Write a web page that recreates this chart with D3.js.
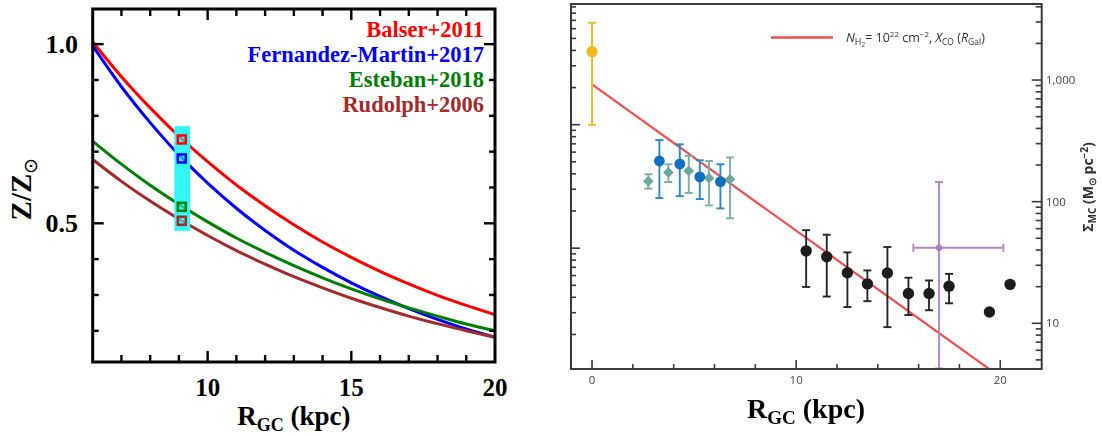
<!DOCTYPE html>
<html>
<head>
<meta charset="utf-8">
<script src="https://cdn.jsdelivr.net/npm/d3@7"></script>
<style>
  body { margin: 0; background: #fff; }
  svg { display: block; }
</style>
</head>
<body>
<svg id="fig" width="1102" height="436"></svg>
<script>
// ---------- Left panel: radial metallicity gradients ----------
const radiusGrid = [6, 7, 8, 9, 10, 11, 12, 13, 14, 15, 16, 17, 18, 19, 20];
const balser2011 = [1.006, 0.909, 0.822, 0.743, 0.672, 0.607, 0.549, 0.496, 0.448, 0.405, 0.366, 0.331, 0.299, 0.271, 0.245];
const fernandezMartin2017 = [0.995, 0.881, 0.781, 0.691, 0.612, 0.542, 0.480, 0.425, 0.377, 0.334, 0.296, 0.262, 0.232, 0.205, 0.182];
const esteban2018 = [0.729, 0.665, 0.606, 0.553, 0.504, 0.459, 0.419, 0.382, 0.348, 0.317, 0.289, 0.264, 0.241, 0.219, 0.200];
const rudolph2006 = [0.678, 0.617, 0.562, 0.512, 0.466, 0.424, 0.386, 0.351, 0.320, 0.291, 0.265, 0.241, 0.220, 0.200, 0.182];
const studyNames = ["Balser+2011", "Fernandez-Martin+2017", "Esteban+2018", "Rudolph+2006"];
const solarCircleR = 9.1;
const solarCircleZ = [0.734, 0.681, 0.546, 0.507];
const solarBandR = [8.84, 9.39];
const solarBandZ = [0.479, 0.771];
const leftXTickLabels = [10, 15, 20];
const leftYTickLabels = [0.5, 1.0];

// ---------- Right panel: molecular cloud surface density ----------
const centreR = [0];
const centreSigma = [1710];
const centreLo = [428];
const centreHi = [2957];

const innerCloudR = [3.30, 4.30, 5.28, 6.29];
const innerCloudSigma = [216, 204, 160, 146];
const innerCloudLo = [107, 111, 105, 88];
const innerCloudHi = [321, 296, 219, 203];

const innerAltR = [2.76, 3.74, 4.74, 5.73, 6.76];
const innerAltSigma = [147, 174, 179, 156, 153];
const innerAltLo = [128, 145, 118, 93, 73];
const innerAltHi = [168, 203, 238, 216, 231];

const outerCloudR = [10.49, 11.50, 12.51, 13.49, 14.47, 15.50, 16.51, 17.49, 19.47, 20.48];
const outerCloudSigma = [39.4, 35.2, 26.0, 21.1, 25.9, 17.6, 17.6, 20.2, 12.4, 20.9];
const outerCloudLo = [19.9, 16.6, 13.6, 15.2, 9.3, 11.7, 12.8, 14.6, null, null];
const outerCloudHi = [58.3, 53.5, 38.3, 27.2, 42.4, 23.7, 22.5, 25.5, null, null];

const farCloudR = [17.0];
const farCloudSigma = [41.8];
const farCloudLo = [4.25];
const farCloudHi = [145];
const farCloudRLo = [15.74];
const farCloudRHi = [20.15];

const modelR = [0, 22];
const modelSigma = [922, 2.08];

const rightXMajor = [0, 10, 20];
const rightXMinor = [2, 4, 6, 8, 12, 14, 16, 18];

// ---------------------------------------------------------------
const svg = d3.select("#fig");
svg.append("rect").attr("width", 1102).attr("height", 436).attr("fill", "#fff");
const defs = svg.append("defs");
defs.append("filter").attr("id", "soft")
  .attr("x", "-5%").attr("y", "-5%").attr("width", "110%").attr("height", "110%")
  .append("feGaussianBlur").attr("stdDeviation", 0.45);

const serif = "'Liberation Serif', 'Times New Roman', Times, serif";
const narrow = "'Liberation Sans Narrow', 'Open Sans', Roboto, sans-serif";

// ================= LEFT PANEL =================
const L = { x0: 92.7, x1: 495, y0: 9, y1: 362 };
const xL = d3.scaleLinear().domain([6, 20]).range([L.x0, L.x1]);
const yL = d3.scaleLinear().domain([0.113, 1.098]).range([L.y1, L.y0]);
const gL = svg.append("g");

const studyColors = ["#ff0000", "#0000ff", "#008000", "#a52a2a"];
const studySeries = [balser2011, fernandezMartin2017, esteban2018, rudolph2006];

const lineL = d3.line()
  .x(d => xL(d[0])).y(d => yL(d[1]))
  .curve(d3.curveMonotoneX);

studySeries.forEach((vals, i) => {
  gL.append("path")
    .datum(radiusGrid.map((r, j) => [r, vals[j]]))
    .attr("d", lineL)
    .attr("fill", "none")
    .attr("stroke", studyColors[i])
    .attr("stroke-width", 3);
});

// solar-circle band
gL.append("rect")
  .attr("x", xL(solarBandR[0]))
  .attr("width", xL(solarBandR[1]) - xL(solarBandR[0]))
  .attr("y", yL(solarBandZ[1]))
  .attr("height", yL(solarBandZ[0]) - yL(solarBandZ[1]))
  .attr("fill", "#33f6f6");

// curves seen through the square markers
const sq = 8;
const sqClip = defs.append("clipPath").attr("id", "sqclip");
solarCircleZ.forEach(z => {
  sqClip.append("rect")
    .attr("x", xL(solarCircleR) - sq / 2).attr("y", yL(z) - sq / 2)
    .attr("width", sq).attr("height", sq);
});
studySeries.forEach((vals, i) => {
  gL.append("path")
    .datum(radiusGrid.map((r, j) => [r, vals[j]]))
    .attr("d", lineL)
    .attr("fill", "none")
    .attr("stroke", studyColors[i])
    .attr("stroke-width", 2)
    .attr("opacity", 0.45)
    .attr("clip-path", "url(#sqclip)");
});
solarCircleZ.forEach((z, i) => {
  gL.append("rect")
    .attr("x", xL(solarCircleR) - sq / 2).attr("y", yL(z) - sq / 2)
    .attr("width", sq).attr("height", sq)
    .attr("fill", "none")
    .attr("stroke", studyColors[i])
    .attr("stroke-width", 2.5);
});

// ticks (inward on all four sides)
const ltick = gL.append("g").attr("stroke", "#000").attr("stroke-width", 2.4);
for (let r = 7; r < 20; r++) {
  const major = r % 5 === 0;
  const len = major ? 11 : 7;
  ltick.append("line").attr("x1", xL(r)).attr("x2", xL(r)).attr("y1", L.y1).attr("y2", L.y1 - len);
  ltick.append("line").attr("x1", xL(r)).attr("x2", xL(r)).attr("y1", L.y0).attr("y2", L.y0 + len);
}
for (let k = 2; k <= 10; k++) {
  const v = k / 10;
  const major = k === 5 || k === 10;
  const len = major ? 11 : 6;
  ltick.append("line").attr("y1", yL(v)).attr("y2", yL(v)).attr("x1", L.x0).attr("x2", L.x0 + len);
  ltick.append("line").attr("y1", yL(v)).attr("y2", yL(v)).attr("x1", L.x1).attr("x2", L.x1 - len);
}

// frame
gL.append("rect")
  .attr("x", L.x0).attr("y", L.y0)
  .attr("width", L.x1 - L.x0).attr("height", L.y1 - L.y0)
  .attr("fill", "none").attr("stroke", "#000").attr("stroke-width", 3);

// tick labels
gL.selectAll("text.xl").data(leftXTickLabels).join("text")
  .attr("x", d => xL(d)).attr("y", 396)
  .attr("text-anchor", "middle")
  .attr("font-family", serif).attr("font-weight", "bold").attr("font-size", 25)
  .text(d => d);
gL.selectAll("text.yl").data(leftYTickLabels).join("text")
  .attr("x", 78).attr("y", d => yL(d) + 9)
  .attr("text-anchor", "end")
  .attr("font-family", serif).attr("font-weight", "bold").attr("font-size", 26)
  .text(d => d3.format(".1f")(d));

// axis titles
const tL = gL.append("text")
  .attr("x", (L.x0 + L.x1) / 2).attr("y", 425)
  .attr("text-anchor", "middle")
  .attr("font-family", serif).attr("font-weight", "bold").attr("font-size", 27);
tL.append("tspan").text("R");
tL.append("tspan").attr("font-size", 18).attr("dy", 6).text("GC");
tL.append("tspan").attr("dy", -6).text(" (kpc)");

const zt = gL.append("text")
  .attr("transform", "translate(31,189) rotate(-90)")
  .attr("text-anchor", "middle")
  .attr("font-family", serif).attr("font-weight", "bold").attr("font-size", 29);
zt.append("tspan").text("Z/Z");
zt.append("tspan").attr("font-size", 19).attr("font-weight", "normal").attr("dy", 6).text("\u2299");

// legend
studyNames.forEach((name, i) => {
  gL.append("text")
    .attr("x", 484).attr("y", 37 + i * 25)
    .attr("text-anchor", "end")
    .attr("font-family", serif).attr("font-weight", "bold").attr("font-size", 22.5)
    .attr("fill", studyColors[i])
    .text(name);
});

// ================= RIGHT PANEL =================
const R = { x0: 571, x1: 1041.7, y0: 4, y1: 369 };
const xR = d3.scaleLinear().domain([-1.03, 22.03]).range([R.x0, R.x1]);
const yR = d3.scaleLog().domain([4.21, 4217]).range([R.y1, R.y0]);
const yRL = d3.scaleLog().domain([0.105, 95]).range([R.y1, R.y0]);
const gR = svg.append("g").attr("filter", "url(#soft)");

defs.append("clipPath").attr("id", "rclip")
  .append("rect").attr("x", R.x0).attr("y", R.y0)
  .attr("width", R.x1 - R.x0).attr("height", R.y1 - R.y0);

const axisColor = "#3a3a3a";

// model line
gR.append("path")
  .datum(modelR.map((r, i) => [r, modelSigma[i]]))
  .attr("d", d3.line().x(d => xR(d[0])).y(d => yR(d[1])))
  .attr("stroke", "#f24d4d").attr("stroke-width", 2.2).attr("fill", "none")
  .attr("clip-path", "url(#rclip)");

// helpers
function vErr(g, xs, lo, hi, color, w) {
  xs.forEach((r, i) => {
    if (lo[i] == null) return;
    const x = xR(r);
    g.append("line").attr("x1", x).attr("x2", x).attr("y1", yR(lo[i])).attr("y2", yR(hi[i]))
      .attr("stroke", color).attr("stroke-width", w);
    [lo[i], hi[i]].forEach(v => {
      g.append("line").attr("x1", x - 4).attr("x2", x + 4).attr("y1", yR(v)).attr("y2", yR(v))
        .attr("stroke", color).attr("stroke-width", w);
    });
  });
}
const diamond = h => `M0,${-h}L${h},0L0,${h}L${-h},0Z`;

// central molecular zone
vErr(gR, centreR, centreLo, centreHi, "#f5b81c", 1.9);
gR.selectAll("circle.c").data(centreR).join("circle")
  .attr("cx", d => xR(d)).attr("cy", (d, i) => yR(centreSigma[i])).attr("r", 5.6)
  .attr("fill", "#f5b81c");

// inner Galaxy, diamonds
vErr(gR, innerAltR, innerAltLo, innerAltHi, "#7cb0a6", 1.9);
gR.selectAll("path.d").data(innerAltR).join("path")
  .attr("transform", (d, i) => `translate(${xR(d)},${yR(innerAltSigma[i])})`)
  .attr("d", diamond(5.3)).attr("fill", "#6aa89c");

// inner Galaxy, circles
vErr(gR, innerCloudR, innerCloudLo, innerCloudHi, "#2a8ad2", 1.9);
gR.selectAll("circle.b").data(innerCloudR).join("circle")
  .attr("cx", d => xR(d)).attr("cy", (d, i) => yR(innerCloudSigma[i])).attr("r", 5.4)
  .attr("fill", "#1070c0");

// outer Galaxy
vErr(gR, outerCloudR, outerCloudLo, outerCloudHi, "#262626", 1.9);
gR.selectAll("circle.k").data(outerCloudR).join("circle")
  .attr("cx", d => xR(d)).attr("cy", (d, i) => yR(outerCloudSigma[i])).attr("r", 5.7)
  .attr("fill", "#1c1c1c");

// far outer cloud with radial range
vErr(gR, farCloudR, farCloudLo, farCloudHi, "#b985c9", 1.9);
farCloudR.forEach((r, i) => {
  const y = yR(farCloudSigma[i]);
  gR.append("line").attr("x1", xR(farCloudRLo[i])).attr("x2", xR(farCloudRHi[i]))
    .attr("y1", y).attr("y2", y).attr("stroke", "#b985c9").attr("stroke-width", 1.9);
  [farCloudRLo[i], farCloudRHi[i]].forEach(v => {
    gR.append("line").attr("x1", xR(v)).attr("x2", xR(v)).attr("y1", y - 4).attr("y2", y + 4)
      .attr("stroke", "#b985c9").attr("stroke-width", 1.9);
  });
  gR.append("path").attr("transform", `translate(${xR(r)},${y})`)
    .attr("d", diamond(4.4)).attr("fill", "#b27cc4");
});

// ticks
const rtick = gR.append("g").attr("stroke", axisColor).attr("stroke-width", 1.6);
rightXMajor.forEach(v => rtick.append("line").attr("x1", xR(v)).attr("x2", xR(v)).attr("y1", R.y1).attr("y2", R.y1 - 9));
rightXMinor.forEach(v => rtick.append("line").attr("x1", xR(v)).attr("x2", xR(v)).attr("y1", R.y1).attr("y2", R.y1 - 5));

const isPow10 = v => Math.abs(Math.log10(v) - Math.round(Math.log10(v))) < 1e-6;
yR.ticks().forEach(v => {
  const len = isPow10(v) ? 10 : 6;
  rtick.append("line").attr("x1", R.x1).attr("x2", R.x1 - len).attr("y1", yR(v)).attr("y2", yR(v));
});
yRL.ticks().forEach(v => {
  const len = isPow10(v) ? 9 : 5;
  rtick.append("line").attr("x1", R.x0).attr("x2", R.x0 + len).attr("y1", yRL(v)).attr("y2", yRL(v));
});

// frame
gR.append("rect")
  .attr("x", R.x0).attr("y", R.y0)
  .attr("width", R.x1 - R.x0).attr("height", R.y1 - R.y0)
  .attr("fill", "none").attr("stroke", axisColor).attr("stroke-width", 2);

// tick labels
gR.selectAll("text.rx").data(rightXMajor).join("text")
  .attr("x", d => xR(d)).attr("y", 384)
  .attr("text-anchor", "middle")
  .attr("font-family", narrow).attr("font-size", 11.5).attr("fill", "#444")
  .text(d => d);
gR.selectAll("text.ry").data(yR.ticks().filter(isPow10)).join("text")
  .attr("x", 1046).attr("y", d => yR(d) + 4)
  .attr("font-family", narrow).attr("font-size", 11.5).attr("fill", "#444")
  .text(d => d3.format(",")(d));

// right axis title
const st = gR.append("text")
  .attr("transform", "translate(1093,187) rotate(-90)")
  .attr("text-anchor", "middle")
  .attr("font-family", narrow).attr("font-weight", "bold").attr("font-size", 14).attr("fill", "#333");
st.append("tspan").text("\u03A3");
st.append("tspan").attr("font-size", 10).attr("dy", 3).text("MC");
st.append("tspan").attr("dy", -3).text(" (M");
st.append("tspan").attr("font-size", 10).attr("dy", 3).text("\u2299");
st.append("tspan").attr("dy", -3).text(" pc");
st.append("tspan").attr("font-size", 10).attr("dy", -5).text("\u22122");
st.append("tspan").attr("dy", 5).text(")");

// x title
const tR = gR.append("text")
  .attr("x", 806).attr("y", 418)
  .attr("text-anchor", "middle")
  .attr("font-family", serif).attr("font-weight", "bold").attr("font-size", 28);
tR.append("tspan").text("R");
tR.append("tspan").attr("font-size", 19).attr("dy", 6).text("GC");
tR.append("tspan").attr("dy", -6).text(" (kpc)");

// legend
gR.append("line").attr("x1", 771).attr("x2", 833).attr("y1", 37.5).attr("y2", 37.5)
  .attr("stroke", "#f24d4d").attr("stroke-width", 2.5);
const lt = gR.append("text")
  .attr("x", 846).attr("y", 42)
  .attr("font-family", narrow).attr("font-size", 12.5).attr("fill", "#333");
lt.append("tspan").attr("font-style", "italic").text("N");
lt.append("tspan").attr("font-size", 9).attr("dy", 3).text("H");
lt.append("tspan").attr("font-size", 6.5).attr("dy", 2).text("2");
lt.append("tspan").attr("dy", -5).text("= 10");
lt.append("tspan").attr("font-size", 8).attr("dy", -5).text("22");
lt.append("tspan").attr("dy", 5).text(" cm");
lt.append("tspan").attr("font-size", 8).attr("dy", -5).text("\u22122");
lt.append("tspan").attr("dy", 5).text(", ");
lt.append("tspan").attr("font-style", "italic").text("X");
lt.append("tspan").attr("font-size", 8.5).attr("dy", 3).text("CO");
lt.append("tspan").attr("dy", -3).text(" (");
lt.append("tspan").attr("font-style", "italic").text("R");
lt.append("tspan").attr("font-size", 8.5).attr("dy", 3).text("Gal");
lt.append("tspan").attr("dy", -3).text(")");
</script>
</body>
</html>
